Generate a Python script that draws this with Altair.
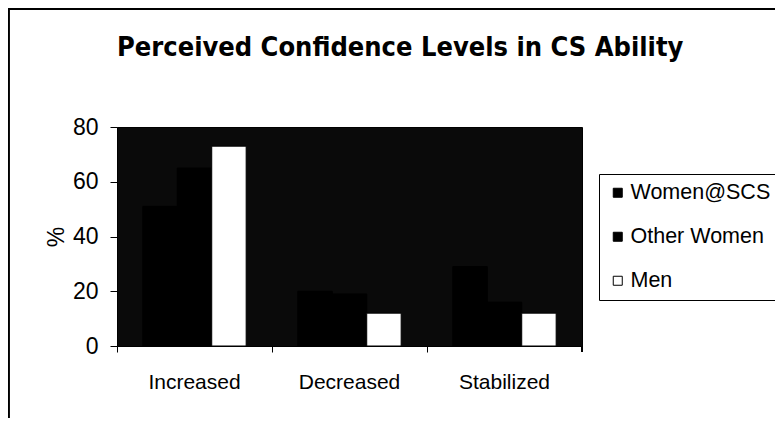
import altair as alt
import pandas as pd

categories = ["Increased", "Decreased", "Stabilized"]
series = ["Women@SCS", "Other Women", "Men"]
women_scs = [51, 20, 29]
other_women = [65, 19, 16]
men = [73, 12, 12]
series_colors = ["#000000", "#000000", "#ffffff"]
y_ticks = [0, 20, 40, 60, 80]
title_text = "Perceived Confidence Levels in CS Ability"

rows = []
for s, vals in zip(series, [women_scs, other_women, men]):
    for c, v in zip(categories, vals):
        rows.append({"category": c, "series": s, "value": v})
df = pd.DataFrame(rows)

W, H = 465, 219
NARROW = "Liberation Sans Narrow, DejaVu Sans Condensed, Liberation Sans, sans-serif"
REG = "Liberation Sans, Arial, sans-serif"

bars = alt.Chart(df).mark_bar(stroke="black", strokeWidth=1).encode(
    x=alt.X(
        "category:N",
        sort=categories,
        scale=alt.Scale(paddingInner=0, paddingOuter=0),
        axis=alt.Axis(
            title=None, labelAngle=0, bandPosition=0, ticks=True, tickSize=6,
            tickColor="black", domainColor="black", labelColor="black",
            labelFont=REG, labelFontSize=21, labelPadding=19, grid=False,
        ),
    ),
    xOffset=alt.XOffset(
        "series:N", sort=series,
        scale=alt.Scale(paddingInner=0, paddingOuter=0.75),
    ),
    y=alt.Y(
        "value:Q",
        scale=alt.Scale(domain=[0, 80]),
        axis=alt.Axis(
            values=y_ticks, title="%", grid=False, tickSize=7,
            tickColor="black", domainColor="black", labelColor="black",
            labelFont=REG, labelFontSize=23, labelPadding=12,
            titleFont=REG, titleFontSize=23, titleFontWeight="normal",
            titleColor="black", titlePadding=4,
        ),
    ),
    color=alt.Color(
        "series:N", sort=series,
        scale=alt.Scale(domain=series, range=series_colors),
        legend=alt.Legend(
            title=None, orient="none", legendX=482, legendY=47,
            symbolType="square", symbolSize=81, symbolStrokeColor="black",
            symbolStrokeWidth=1, labelFont=REG, labelFontSize=21.5,
            labelColor="black", labelOffset=2, rowPadding=21, padding=8,
            strokeColor="black", fillColor="white",
        ),
    ),
)

end_tick = alt.Chart(df).mark_rule(color="black", strokeWidth=1).encode(
    x=alt.value(W), y=alt.value(H), y2=alt.value(H + 6)
)
frame_left = alt.Chart(df).mark_rule(color="black", strokeWidth=1.5).encode(
    x=alt.value(-108.5), y=alt.value(-118), y2=alt.value(320)
)
frame_top = alt.Chart(df).mark_rule(color="black", strokeWidth=1.5).encode(
    x=alt.value(-108.5), x2=alt.value(700), y=alt.value(-118)
)

chart = alt.layer(bars, end_tick, frame_left, frame_top).properties(
    width=W,
    height=H,
    autosize=alt.AutoSizeParams(type="none"),
    padding={"left": 109, "top": 119, "right": 193, "bottom": 72},
    title=alt.TitleParams(
        title_text, anchor="start", frame="group", font=NARROW,
        fontSize=27, fontWeight="bold", color="black", offset=-75,
        baseline="alphabetic",
    ),
).configure(
    background="white",
    view=alt.ViewConfig(fill="#0a0a0a", stroke="black", strokeWidth=1),
)

chart.save("out.html", embed_options={"renderer": "svg", "actions": False})
